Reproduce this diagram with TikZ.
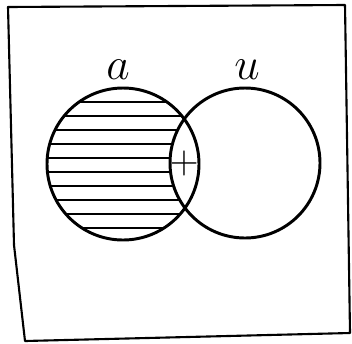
\documentclass[tikz,border=0pt]{standalone}
\usetikzlibrary{calc}
\tikzset{
  frame/.style={line width=1.5pt, line join=round},
  venn/.style={line width=2.1pt},
  hatch/.style={line width=1.3pt},
  setlabel/.style={font=\Huge, scale=1.3, inner sep=0pt},
  marklabel/.style={font=\Huge, scale=1.15, inner sep=0pt}
}
\begin{document}
\begin{tikzpicture}[x=0.025cm, y=-0.025cm]
\useasboundingbox (0,0) rectangle (352,343);

% Frame round the picture
\draw[frame] (8,7) -- (345,5) -- (350,333) -- (25,341) -- (14,245) -- cycle;

% Centres of the two sets
\coordinate (acen) at (123,164);
\coordinate (ucen) at (245,163);

% Hatching of a outside u
\begin{scope}[even odd rule]
  \clip (acen) circle (76);
  \clip (0,0) rectangle (352,343) (ucen) circle (75);
  \foreach \k in {0,...,9} {
    \draw[hatch] (40,102+14*\k) -- (215,102+14*\k);
  }
\end{scope}

% The two circles
\draw[venn] (acen) circle (76);
\draw[venn] (ucen) circle (75);

% Labels
\node[setlabel] (alabel) at (118,70) {$a$};
\node[setlabel] (ulabel) at (247,70) {$u$};
\node[marklabel] (plus) at (184,163) {$+$};

\end{tikzpicture}
\end{document}
